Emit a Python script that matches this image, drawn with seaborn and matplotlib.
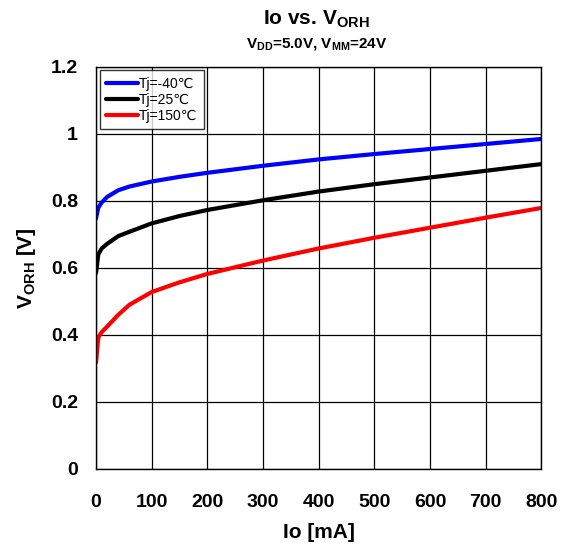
import pandas as pd
import seaborn as sns
import matplotlib.pyplot as plt

# dados
io_ma = [0, 4, 10, 20, 40, 60, 100, 150, 200, 300, 400, 500, 600, 700, 800]
v_m40 = [0.748, 0.780, 0.795, 0.812, 0.832, 0.843, 0.858, 0.872, 0.884, 0.905, 0.924, 0.940, 0.955, 0.970, 0.985]
v_25 = [0.585, 0.640, 0.658, 0.672, 0.695, 0.708, 0.733, 0.755, 0.773, 0.802, 0.828, 0.850, 0.870, 0.890, 0.910]
v_150 = [0.318, 0.392, 0.408, 0.425, 0.460, 0.490, 0.528, 0.557, 0.582, 0.622, 0.658, 0.690, 0.720, 0.750, 0.779]
labels = ["Tj=-40℃", "Tj=25℃", "Tj=150℃"]
colors = ["#0000FF", "#000000", "#FF0000"]

df = pd.concat([
    pd.DataFrame({"Io": io_ma, "V": v, "Tj": lab})
    for v, lab in zip([v_m40, v_25, v_150], labels)
])

sns.set_theme(style="white")
plt.rcParams['font.family'] = ['Liberation Sans', 'DejaVu Sans']
plt.rcParams['text.color'] = 'black'
plt.rcParams['axes.labelcolor'] = 'black'
plt.rcParams['xtick.color'] = 'black'
plt.rcParams['ytick.color'] = 'black'
plt.rcParams['mathtext.fontset'] = 'custom'
plt.rcParams['mathtext.bf'] = 'Liberation Sans:bold'
plt.rcParams['mathtext.rm'] = 'Liberation Sans'

fig = plt.figure(figsize=(5.65, 5.49), dpi=100)
ax = fig.add_axes([0.170, 0.146, 0.788, 0.732])
sns.lineplot(data=df, x="Io", y="V", hue="Tj", palette=colors, linewidth=3, ax=ax)

ax.set_xlim(0, 800)
ax.set_ylim(0, 1.2)
ax.set_xticks(range(0, 801, 100))
ax.set_yticks([0, 0.2, 0.4, 0.6, 0.8, 1.0, 1.2])
ax.set_yticklabels(["0", "0.2", "0.4", "0.6", "0.8", "1", "1.2"])
ax.grid(True, color="black", linewidth=0.9)
for s in ax.spines.values():
    s.set_color("black")
    s.set_linewidth(1.0)
ax.tick_params(axis="x", length=0, labelsize=14, pad=18)
ax.tick_params(axis="y", length=0, labelsize=14, pad=13)
for t in ax.get_xticklabels() + ax.get_yticklabels():
    t.set_fontweight("bold")

ax.set_xlabel("Io [mA]", fontsize=15, fontweight="bold", labelpad=9)
ax.set_ylabel(r"V$_{\mathbf{ORH}}$ [V]", fontsize=15, fontweight="bold", labelpad=9)

fig.text(0.560, 0.955, r"Io vs. V$_{\mathbf{ORH}}$", ha="center", fontsize=15, fontweight="bold")
fig.text(0.560, 0.912, r"V$_{\mathbf{DD}}$=5.0V, V$_{\mathbf{MM}}$=24V", ha="center", fontsize=11, fontweight="bold")

leg = ax.legend(loc="upper left", bbox_to_anchor=(0.0, 1.0), fontsize=10, frameon=True,
                fancybox=False, edgecolor="black", handlelength=2.3, handletextpad=0.1,
                borderpad=0.45, labelspacing=0.15, borderaxespad=0.25)
leg.get_frame().set_linewidth(1.0)

fig.savefig("out.png", dpi=100)
